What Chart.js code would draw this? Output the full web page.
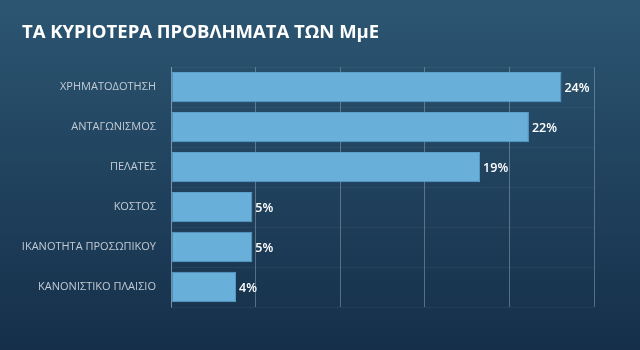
<!DOCTYPE html>
<html>
<head>
<meta charset="utf-8">
<script src="https://cdn.jsdelivr.net/npm/chart.js@4.4.1/dist/chart.umd.min.js"></script>
<style>
html,body{margin:0;padding:0;background:#1d3a56;}
#wrap{width:640px;height:350px;position:relative;}
</style>
</head>
<body>
<div id="wrap"><canvas id="c" width="640" height="350"></canvas></div>
<script>
const titleText = 'ΤΑ ΚΥΡΙΟΤΕΡΑ ΠΡΟΒΛΗΜΑΤΑ ΤΩΝ ΜμΕ';
const categories = ['ΧΡΗΜΑΤΟΔΟΤΗΣΗ','ΑΝΤΑΓΩΝΙΣΜΟΣ','ΠΕΛΑΤΕΣ','ΚΟΣΤΟΣ','ΙΚΑΝΟΤΗΤΑ ΠΡΟΣΩΠΙΚΟΥ','ΚΑΝΟΝΙΣΤΙΚΟ ΠΛΑΙΣΙΟ'];
const values = [24, 22, 19, 5, 5, 4];
const valueLabels = ['24%','22%','19%','5%','5%','4%'];

const bgPlugin = {
  id: 'bg',
  beforeDraw(chart) {
    const ctx = chart.ctx;
    const g = ctx.createLinearGradient(0, 0, 0, chart.height);
    g.addColorStop(0, '#2c5672');
    g.addColorStop(1, '#152f4a');
    ctx.save();
    ctx.fillStyle = g;
    ctx.fillRect(0, 0, chart.width, chart.height);
    ctx.restore();
  }
};

const valuePlugin = {
  id: 'vals',
  afterDatasetsDraw(chart) {
    const ctx = chart.ctx;
    const meta = chart.getDatasetMeta(0);
    ctx.save();
    ctx.fillStyle = '#ffffff';
    ctx.font = '600 12.5px "Open Sans", sans-serif';
    ctx.textAlign = 'left';
    ctx.textBaseline = 'middle';
    meta.data.forEach((bar, i) => {
      ctx.fillText(valueLabels[i], bar.x + 3, bar.y + 1);
    });
    ctx.restore();
  }
};

new Chart(document.getElementById('c'), {
  type: 'bar',
  data: {
    labels: categories,
    datasets: [{
      data: values,
      backgroundColor: '#68b0da',
      borderColor: '#5b9fcb',
      borderWidth: 1,
      borderSkipped: false,
      categoryPercentage: 1,
      barPercentage: 0.76
    }]
  },
  options: {
    indexAxis: 'y',
    responsive: false,
    animation: false,
    layout: { padding: { left: 22, right: 46, top: 0, bottom: 43 } },
    plugins: {
      legend: { display: false },
      tooltip: { enabled: false },
      title: {
        display: true,
        text: titleText,
        align: 'start',
        color: '#ffffff',
        font: { family: '"Open Sans", sans-serif', size: 18.5, weight: 'bold' },
        padding: { top: 22, bottom: 23 }
      }
    },
    scales: {
      x: {
        min: 0, max: 26,
        ticks: { display: false, stepSize: 5.2 },
        grid: { color: 'rgba(160,180,200,0.45)', lineWidth: 1, drawTicks: false },
        border: { display: false },
        afterFit(scale) { scale.height = 0; }
      },
      y: {
        ticks: {
          color: '#c3cbd4',
          font: { family: '"Open Sans", sans-serif', size: 11 },
          padding: 15
        },
        grid: { color: 'rgba(255,255,255,0.05)', drawTicks: false, offset: true },
        border: { display: true, color: 'rgba(160,180,200,0.45)' },
        afterFit(scale) { scale.width = 149; }
      }
    }
  },
  plugins: [bgPlugin, valuePlugin]
});
</script>
</body>
</html>
